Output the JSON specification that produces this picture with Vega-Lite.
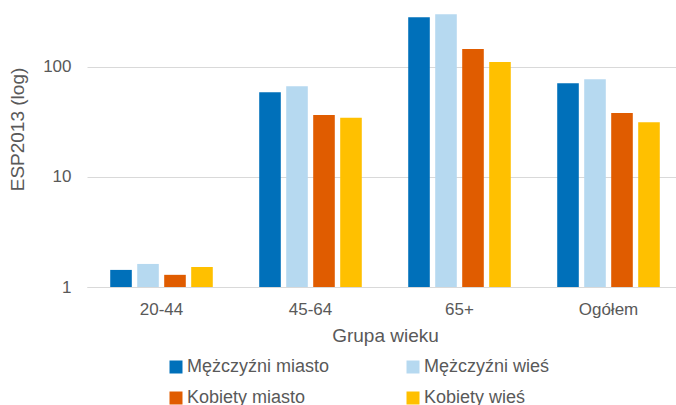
{
  "$schema": "https://vega.github.io/schema/vega-lite/v6.json",
  "autosize": {"type": "none"},
  "padding": {"left": 87, "top": 0, "right": -7, "bottom": 118},
  "width": 596,
  "height": 287,
  "background": "white",
  "config": {
    "view": {"stroke": null},
    "font": "Liberation Sans"
  },
  "data": {
    "values": [
      {"grupa": "20-44", "seria": "Mężczyźni miasto", "v": 1.43},
      {"grupa": "20-44", "seria": "Mężczyźni wieś", "v": 1.62},
      {"grupa": "20-44", "seria": "Kobiety miasto", "v": 1.29},
      {"grupa": "20-44", "seria": "Kobiety wieś", "v": 1.52},
      {"grupa": "45-64", "seria": "Mężczyźni miasto", "v": 58.9},
      {"grupa": "45-64", "seria": "Mężczyźni wieś", "v": 66.8},
      {"grupa": "45-64", "seria": "Kobiety miasto", "v": 36.6},
      {"grupa": "45-64", "seria": "Kobiety wieś", "v": 34.6},
      {"grupa": "65+", "seria": "Mężczyźni miasto", "v": 283},
      {"grupa": "65+", "seria": "Mężczyźni wieś", "v": 301},
      {"grupa": "65+", "seria": "Kobiety miasto", "v": 145.8},
      {"grupa": "65+", "seria": "Kobiety wieś", "v": 111},
      {"grupa": "Ogółem", "seria": "Mężczyźni miasto", "v": 71},
      {"grupa": "Ogółem", "seria": "Mężczyźni wieś", "v": 77.3},
      {"grupa": "Ogółem", "seria": "Kobiety miasto", "v": 38.2},
      {"grupa": "Ogółem", "seria": "Kobiety wieś", "v": 31.4}
    ]
  },
  "mark": {"type": "bar"},
  "encoding": {
    "x": {
      "field": "grupa",
      "type": "nominal",
      "sort": ["20-44", "45-64", "65+", "Ogółem"],
      "scale": {"paddingInner": 0, "paddingOuter": 0},
      "axis": {
        "title": "Grupa wieku",
        "titleFontSize": 19,
        "titleFontWeight": "normal",
        "titleColor": "#595959",
        "titleBaseline": "alphabetic",
        "titleY": 54,
        "labelAngle": 0,
        "labelFontSize": 17,
        "labelColor": "#595959",
        "labelPadding": 14,
        "ticks": false,
        "domainColor": "#d9d9d9",
        "domainWidth": 1
      }
    },
    "xOffset": {
      "field": "seria",
      "type": "nominal",
      "sort": ["Mężczyźni miasto", "Mężczyźni wieś", "Kobiety miasto", "Kobiety wieś"],
      "scale": {"paddingInner": 0.2, "paddingOuter": 0.86}
    },
    "y": {
      "field": "v",
      "type": "quantitative",
      "scale": {"type": "log", "domain": [1, 406], "nice": false},
      "axis": {
        "title": "ESP2013 (log)",
        "titleFontSize": 19,
        "titleFontWeight": "normal",
        "titleColor": "#595959",
        "titleX": -70,
        "titleY": 129,
        "titleBaseline": "middle",
        "values": [1, 10, 100],
        "format": "d",
        "labelFontSize": 17,
        "labelColor": "#595959",
        "labelPadding": 16,
        "ticks": false,
        "domain": false,
        "gridColor": "#d9d9d9",
        "gridWidth": 1
      }
    },
    "y2": {"datum": 1},
    "color": {
      "field": "seria",
      "type": "nominal",
      "scale": {
        "domain": ["Mężczyźni miasto", "Kobiety miasto", "Mężczyźni wieś", "Kobiety wieś"],
        "range": ["#0070BA", "#E05C00", "#B6D9F0", "#FFC000"]
      },
      "legend": {
        "orient": "none",
        "legendX": 80,
        "legendY": 358,
        "title": null,
        "columns": 2,
        "columnPadding": 74,
        "rowPadding": 13,
        "symbolType": "square",
        "symbolSize": 169,
        "symbolStrokeWidth": 0,
        "labelFontSize": 18,
        "labelColor": "#595959",
        "labelOffset": 2
      }
    }
  }
}
